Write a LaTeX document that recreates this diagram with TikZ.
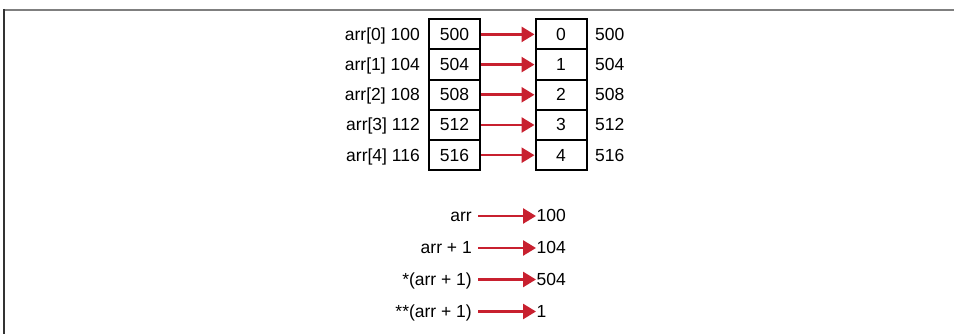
\documentclass[tikz,border=0pt]{standalone}
\usepackage{fontspec}
\setmainfont{Liberation Sans}
\usetikzlibrary{arrows.meta}
\definecolor{arrred}{HTML}{C8202F}
\definecolor{framegray}{HTML}{7F7F7F}
\definecolor{framedark}{HTML}{333333}
\begin{document}
\begin{tikzpicture}[x=1pt,y=1pt,
  cell/.style={draw=black,line width=2pt,minimum width=51pt,minimum height=30.2pt,inner sep=0pt,text height=13pt,text depth=1pt,font=\fontsize{17.5}{20}\selectfont},
  lbl/.style={inner sep=0pt,text height=13pt,text depth=1pt,font=\fontsize{17.5}{20}\selectfont},
  ptr/.style={draw=arrred,line width=2.6pt,-{Triangle[length=13pt,width=15pt]}},
]
\useasboundingbox (0,0) rectangle (954,334);
\draw[framegray,line width=2pt] (3,324) -- (954,324);
\draw[framedark,line width=2pt] (3.5,325) -- (3.5,0);
% cells
\foreach \i/\a/\v/\lab/\addr in {0/500/0/arr[0] 100/500,1/504/1/arr[1] 104/504,2/508/2/arr[2] 108/508,3/512/3/arr[3] 112/512,4/516/4/arr[4] 116/516}{
  \node[cell] (L\i) at (454.5,{334-34.4-30.2*\i}) {\a};
  \node[cell] (R\i) at (561,{334-34.4-30.2*\i}) {\v};
  \node[lbl,anchor=east] (N\i) at (420,{334-34.4-30.2*\i}) {\lab};
  \node[lbl,anchor=west] (A\i) at (595,{334-34.4-30.2*\i}) {\addr};
  \draw[ptr] (L\i.east) -- (R\i.west);
}
% expressions
\foreach \j/\e/\r/\yy in {0/arr/100/216,1/arr + 1/104/248,2/*(arr + 1)/504/279.5,3/**(arr + 1)/1/311.5}{
  \node[lbl,anchor=east] (E\j) at (472,{334-\yy}) {\e};
  \node[lbl,anchor=west] (V\j) at (536.5,{334-\yy}) {\r};
  \draw[ptr,shorten <=6pt,shorten >=0.5pt] (E\j.east) -- (V\j.west);
}
\end{tikzpicture}
\end{document}
